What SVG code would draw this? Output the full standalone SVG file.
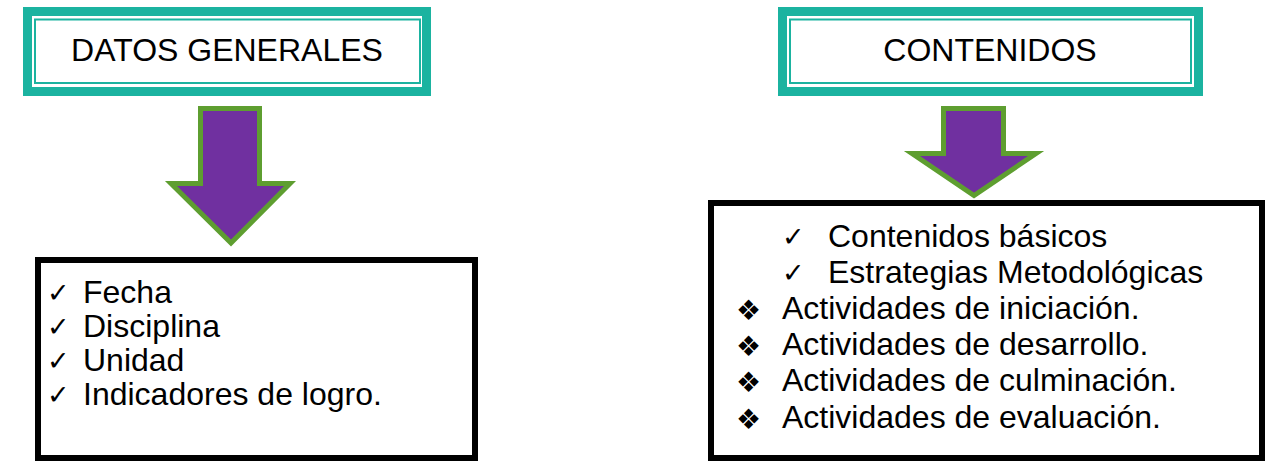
<svg xmlns="http://www.w3.org/2000/svg" width="1269" height="462" viewBox="0 0 1269 462">
<style>
.outer{fill:#fff;stroke:#1BB3A0;stroke-width:9}
.inner{fill:none;stroke:#1BB3A0;stroke-width:2}
.hdr{font-family:"Liberation Sans",Arial,sans-serif;font-size:32px;fill:#000;text-anchor:middle}
.box{fill:#fff;stroke:#000;stroke-width:6}
.arrow{fill:#7030A0;stroke:#5E9E30;stroke-width:5;stroke-linejoin:miter}
.item{font-family:"Liberation Sans",Arial,sans-serif;font-size:32px;fill:#000}
.chk{font-family:"DejaVu Sans",sans-serif;font-size:27px;font-weight:bold;fill:#000}
.dia{font-family:"DejaVu Sans",sans-serif;font-size:28px;fill:#000}
</style>
<rect width="1269" height="462" fill="#fff"/>
<g id="datos-generales">
<rect class="outer" x="27.5" y="11.5" width="399" height="80"/>
<rect class="inner" x="35" y="19.5" width="385" height="63.5"/>
<text class="hdr" x="227" y="61">DATOS GENERALES</text>
</g>
<g id="contenidos">
<rect class="outer" x="782.5" y="11.5" width="416" height="80"/>
<rect class="inner" x="790" y="19.5" width="401" height="63.5"/>
<text class="hdr" x="990" y="61">CONTENIDOS</text>
</g>
<g id="connectors">
<polygon class="arrow" points="200.5,108.5 259.5,108.5 259.5,183.5 290,183.5 231,243 171,183.5 200.5,183.5"/>
<polygon class="arrow" points="943.5,108.5 1003.5,108.5 1003.5,153.5 1036,153.5 974,195.5 912,153.5 943.5,153.5"/>
</g>
<g id="lista-datos">
<rect class="box" x="38" y="260" width="437" height="198"/>
<text class="chk" x="47" y="302">✓</text>
<text class="item" x="83" y="303">Fecha</text>
<text class="chk" x="47" y="336">✓</text>
<text class="item" x="83" y="337">Disciplina</text>
<text class="chk" x="47" y="370">✓</text>
<text class="item" x="83" y="371">Unidad</text>
<text class="chk" x="47" y="404">✓</text>
<text class="item" x="83" y="405">Indicadores de logro.</text>
</g>
<g id="lista-contenidos">
<rect class="box" x="711" y="203" width="551" height="255"/>
<text class="chk" x="782" y="246">✓</text>
<text class="item" x="828" y="247">Contenidos básicos</text>
<text class="chk" x="782" y="282">✓</text>
<text class="item" x="828" y="283">Estrategias Metodológicas</text>
<text class="dia" x="736" y="320">❖</text>
<text class="item" x="782" y="319">Actividades de iniciación.</text>
<text class="dia" x="736" y="356">❖</text>
<text class="item" x="782" y="355">Actividades de desarrollo.</text>
<text class="dia" x="736" y="392">❖</text>
<text class="item" x="782" y="391">Actividades de culminación.</text>
<text class="dia" x="736" y="429">❖</text>
<text class="item" x="782" y="428">Actividades de evaluación.</text>
</g>
</svg>
